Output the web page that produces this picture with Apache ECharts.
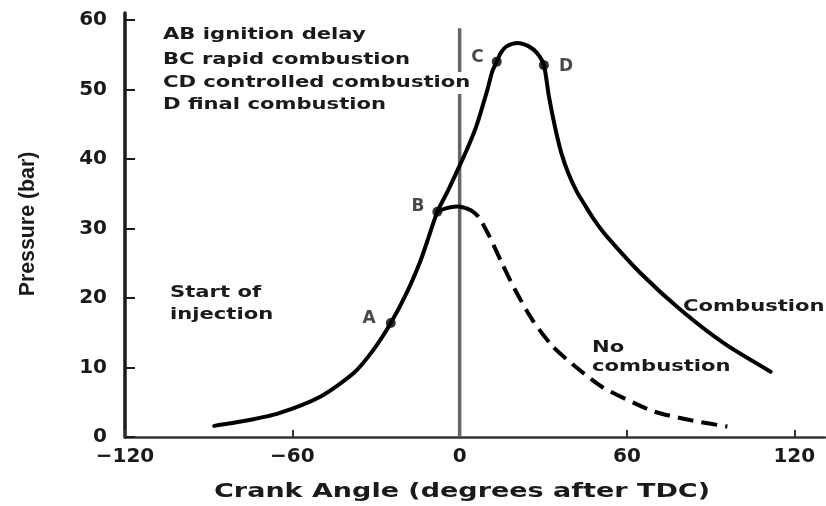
<!DOCTYPE html>
<html>
<head>
<meta charset="utf-8">
<script src="https://cdn.jsdelivr.net/npm/echarts@6/dist/echarts.min.js"></script>
<style>
  html, body { margin: 0; padding: 0; background: #fff; }
  #chart { width: 826px; height: 506px; }
</style>
</head>
<body>
<div id="chart"></div>
<script>
// crank angle (deg after TDC), pressure (bar)
const combustion = [
  [-88, 1.6], [-76, 2.4], [-65, 3.4], [-50, 5.8], [-38, 9.2], [-31, 12.5],
  [-24.7, 16.4], [-18.7, 21], [-14, 25.4], [-11, 28.9], [-8, 32.4], [-4, 35.6],
  [0.4, 39.4], [3.5, 42.2], [6.3, 45.1], [9.9, 49.9], [11.7, 52.6], [13.3, 54.0],
  [14.8, 55.3], [16.8, 56.2], [20.7, 56.7], [24.8, 56.2], [27.8, 55.2], [30.2, 53.5],
  [32, 49], [34.4, 44.2], [36.5, 40.8], [39, 37.9], [42, 35.3], [45, 33.3],
  [48.5, 31.1], [52.9, 28.8], [64.8, 23.6], [79.2, 18.3], [94.7, 13.5], [111.5, 9.4]
]
const noCombustionArc = [[-8, 32.4], [-5, 32.9], [-1, 33.15], [2, 32.95]]
const noCombustion = [
  [2, 32.95], [4.5, 32.5], [6.9, 31.6], [10.5, 29.0], [15.3, 24.9], [20.1, 21.0],
  [26, 16.9], [33.2, 13.1], [41.6, 10.1], [51.1, 7.2], [63, 4.8], [70.2, 3.6],
  [83, 2.4], [96, 1.5]
]
const tdcLine = [[0, 0], [0, 58.8]]
const keyPointNames = ['A', 'B', 'C', 'D']
const keyPointValues = [[-24.7, 16.4], [-8, 32.4], [13.3, 54.0], [30.2, 53.5]]
const xTicks = [-120, -60, 0, 60, 120]
const yTicks = [0, 10, 20, 30, 40, 50, 60]

const chart = echarts.init(document.getElementById('chart'))

const labelFont = 'bold 16px "DejaVu Sans"'
const stretch = 1.32
function note(text, x, y, extra) {
  return Object.assign({
    type: 'text', x, y, scaleX: stretch, z: 100,
    style: {
      text, font: labelFont, fill: '#1a1a1a',
      align: 'left', verticalAlign: 'middle',
      textAlign: 'left', textVerticalAlign: 'middle'
    }
  }, extra || {})
}

const pointLabel = {
  A: { position: 'left', distance: 10, offset: [0, -4] },
  B: { position: 'left', distance: 8, offset: [0, -5] },
  C: { position: 'left', distance: 8, offset: [0, -4] },
  D: { position: 'right', distance: 10, offset: [0, 1] }
}

const axisText = { color: '#1a1a1a', fontFamily: 'DejaVu Sans', fontWeight: 'bold', fontSize: 20 }

chart.setOption({
  animation: false,
  backgroundColor: '#fff',
  grid: { left: 125, right: 1, top: 13, bottom: 69 },
  xAxis: {
    type: 'value', min: -120, max: 131,
    axisLine: { show: true, onZero: false, lineStyle: { color: '#333', width: 2.5 } },
    axisTick: { show: true, inside: true, length: 7, customValues: xTicks, lineStyle: { color: '#333', width: 2 } },
    axisLabel: Object.assign({ margin: 10, customValues: xTicks, formatter: v => String(v).replace('-', '\u2212') }, axisText),
    splitLine: { show: false }
  },
  yAxis: {
    type: 'value', min: 0, max: 61,
    axisLine: { show: true, onZero: false, lineStyle: { color: '#1a1a1a', width: 3.5 } },
    axisTick: { show: true, inside: true, length: 10, customValues: yTicks, lineStyle: { color: '#1a1a1a', width: 2 } },
    axisLabel: Object.assign({ margin: 18, customValues: yTicks }, axisText),
    splitLine: { show: false }
  },
  graphic: [
    note('AB ignition delay', 163, 35),
    note('BC rapid combustion', 163, 60),
    note('CD controlled combustion', 159, 83, {
      style: {
        text: 'CD controlled combustion', font: labelFont, fill: '#1a1a1a',
        align: 'left', verticalAlign: 'middle', textAlign: 'left', textVerticalAlign: 'middle',
        backgroundColor: '#fff', padding: [3, 3]
      }
    }),
    note('D final combustion', 163, 105),
    note('Start of', 170, 293),
    note('injection', 170, 315),
    note('Combustion', 683, 307),
    note('No', 592, 348),
    note('combustion', 592, 367),
    note('Crank Angle (degrees after TDC)', 462, 492, {
      scaleX: 1.35,
      style: {
        text: 'Crank Angle (degrees after TDC)', font: 'bold 20px "DejaVu Sans"', fill: '#1a1a1a',
        align: 'center', verticalAlign: 'middle', textAlign: 'center', textVerticalAlign: 'middle'
      }
    }),
    {
      type: 'text', x: 28, y: 224, rotation: Math.PI / 2, scaleX: 0.97, z: 100,
      style: {
        text: 'Pressure (bar)', font: 'bold 22px "Liberation Sans"', fill: '#1a1a1a',
        align: 'center', verticalAlign: 'middle', textAlign: 'center', textVerticalAlign: 'middle'
      }
    }
  ],
  series: [
    {
      name: 'TDC', type: 'line', data: tdcLine, showSymbol: false, silent: true, z: 1,
      lineStyle: { color: '#666', width: 3.5 }
    },
    {
      name: 'Combustion', type: 'line', data: combustion, smooth: 0.25,
      showSymbol: false, z: 3,
      lineStyle: { color: '#000', width: 4, cap: 'round' }
    },
    {
      name: 'No combustion arc', type: 'line', data: noCombustionArc, smooth: 0.4,
      showSymbol: false, z: 3,
      lineStyle: { color: '#000', width: 4 }
    },
    {
      name: 'No combustion', type: 'line', data: noCombustion, smooth: 0.25,
      showSymbol: false, z: 3,
      lineStyle: { color: '#000', width: 4, type: [16, 8] }
    },
    {
      name: 'Key points', type: 'scatter', z: 4, symbol: 'circle', symbolSize: 10,
      itemStyle: { color: '#000' },
      data: keyPointNames.map((n, i) => ({
        name: n, value: keyPointValues[i],
        label: Object.assign({
          show: true, formatter: '{b}', color: '#1a1a1a',
          fontFamily: 'DejaVu Sans', fontWeight: 'bold', fontSize: 17
        }, pointLabel[n])
      }))
    }
  ]
})
</script>
</body>
</html>
